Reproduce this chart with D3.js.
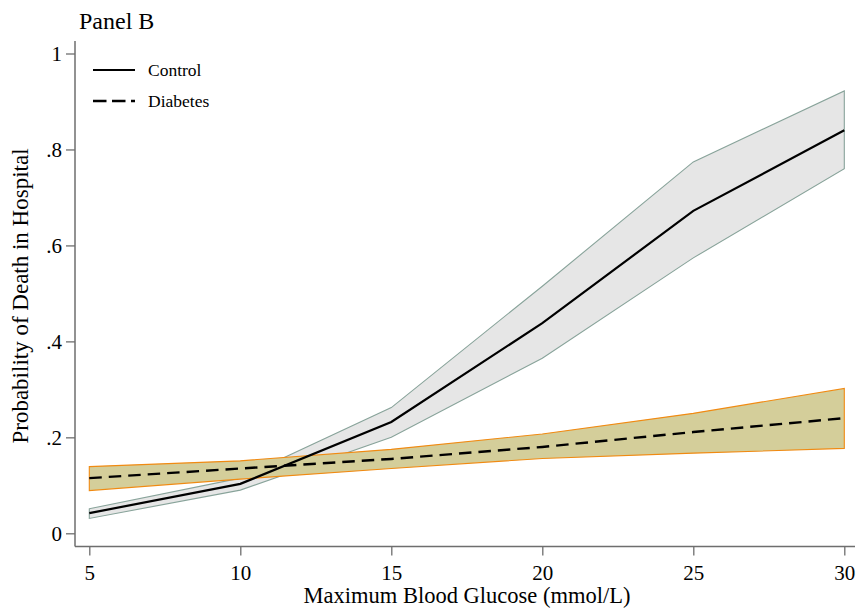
<!DOCTYPE html>
<html><head><meta charset="utf-8">
<script src="https://cdn.jsdelivr.net/npm/d3@7"></script>
<style>body{margin:0;background:#fff;}svg{display:block;}</style>
</head><body><svg id="c" width="862" height="608"></svg>
<script>
const glucose = [5, 10, 15, 20, 25, 30];
const controlMean = [0.042, 0.103, 0.232, 0.438, 0.672, 0.840];
const controlLo   = [0.031, 0.090, 0.200, 0.365, 0.574, 0.760];
const controlHi   = [0.051, 0.115, 0.262, 0.515, 0.774, 0.922];
const diabMean = [0.115, 0.135, 0.155, 0.180, 0.211, 0.240];
const diabLo   = [0.089, 0.113, 0.135, 0.156, 0.167, 0.177];
const diabHi   = [0.139, 0.151, 0.175, 0.207, 0.250, 0.302];
const xTicks = [5, 10, 15, 20, 25, 30];
const yTicks = [0, 0.2, 0.4, 0.6, 0.8, 1];
const yTickLabels = ["0", ".2", ".4", ".6", ".8", "1"];
const seriesNames = ["Control", "Diabetes"];

const FONT = "'Liberation Serif'";
const DASH = "12.5,7";
const svg = d3.select("#c");
const x = d3.scaleLinear().domain([5, 30]).range([89.3, 844.3]);
const y = d3.scaleLinear().domain([0, 1]).range([533.3, 53.5]);

const axisColor = "#6e6e6e";
const rows = (lo, hi, m) => glucose.map((g, i) => ({g, lo: lo[i], hi: hi[i], m: m[i]}));
const cRows = rows(controlLo, controlHi, controlMean);
const dRows = rows(diabLo, diabHi, diabMean);
const area = d3.area().x(d => x(d.g)).y0(d => y(d.lo)).y1(d => y(d.hi));
const line = d3.line().x(d => x(d.g)).y(d => y(d.m));

svg.append("path").datum(cRows).attr("d", area)
  .attr("fill", "#e6e6e6").attr("stroke", "#88a39a").attr("stroke-width", 1.1);
svg.append("path").datum(dRows).attr("d", area)
  .attr("fill", "#d4ce9a").attr("stroke", "#f08a12").attr("stroke-width", 1.1);

svg.append("path").datum(cRows).attr("d", line)
  .attr("fill", "none").attr("stroke", "#000").attr("stroke-width", 2.2);
svg.append("path").datum(dRows).attr("d", line)
  .attr("fill", "none").attr("stroke", "#000").attr("stroke-width", 2.4)
  .attr("stroke-dasharray", DASH);

const xAxis = d3.axisBottom(x).tickValues(xTicks).tickSize(9).tickPadding(10).tickFormat(d3.format("d"));
const gx = svg.append("g").attr("transform", "translate(0,546.5)").call(xAxis).attr("font-family", FONT);
gx.select(".domain").attr("d", "M75,0H855").attr("stroke", axisColor).attr("stroke-width", 1.5);
gx.selectAll(".tick line").attr("stroke", axisColor).attr("stroke-width", 1.3);
gx.selectAll("text").attr("font-size", 21).attr("fill", "#000").style("font-family", FONT);

const yAxis = d3.axisLeft(y).tickValues(yTicks).tickSize(9).tickPadding(4).tickFormat((d, i) => yTickLabels[i]);
const gy = svg.append("g").attr("transform", "translate(75,0)").call(yAxis).attr("font-family", FONT);
gy.select(".domain").attr("d", "M0,41V546.5").attr("stroke", axisColor).attr("stroke-width", 1.5);
gy.selectAll(".tick line").attr("stroke", axisColor).attr("stroke-width", 1.3);
gy.selectAll("text").attr("font-size", 21).attr("fill", "#000").style("font-family", FONT);

svg.append("text").attr("x", 79).attr("y", 29).attr("font-size", 24).style("font-family", FONT).text("Panel B");
svg.append("text").attr("x", 467).attr("y", 603).attr("text-anchor", "middle")
  .attr("font-size", 22.5).style("font-family", FONT).text("Maximum Blood Glucose (mmol/L)");
svg.append("text").attr("transform", "translate(28,296) rotate(-90)").attr("text-anchor", "middle")
  .attr("font-size", 23).style("font-family", FONT).text("Probability of Death in Hospital");

const leg = svg.append("g");
seriesNames.forEach((name, i) => {
  const ly = 70 + i * 31;
  leg.append("line").attr("x1", 93).attr("x2", 135).attr("y1", ly).attr("y2", ly)
    .attr("stroke", "#000").attr("stroke-width", i === 1 ? 2.4 : 2.2)
    .attr("stroke-dasharray", i === 1 ? "13.5,5.5" : null);
  leg.append("text").attr("x", 148).attr("y", ly + 6).attr("font-size", 17.5).style("font-family", FONT).text(name);
});
</script></body></html>
